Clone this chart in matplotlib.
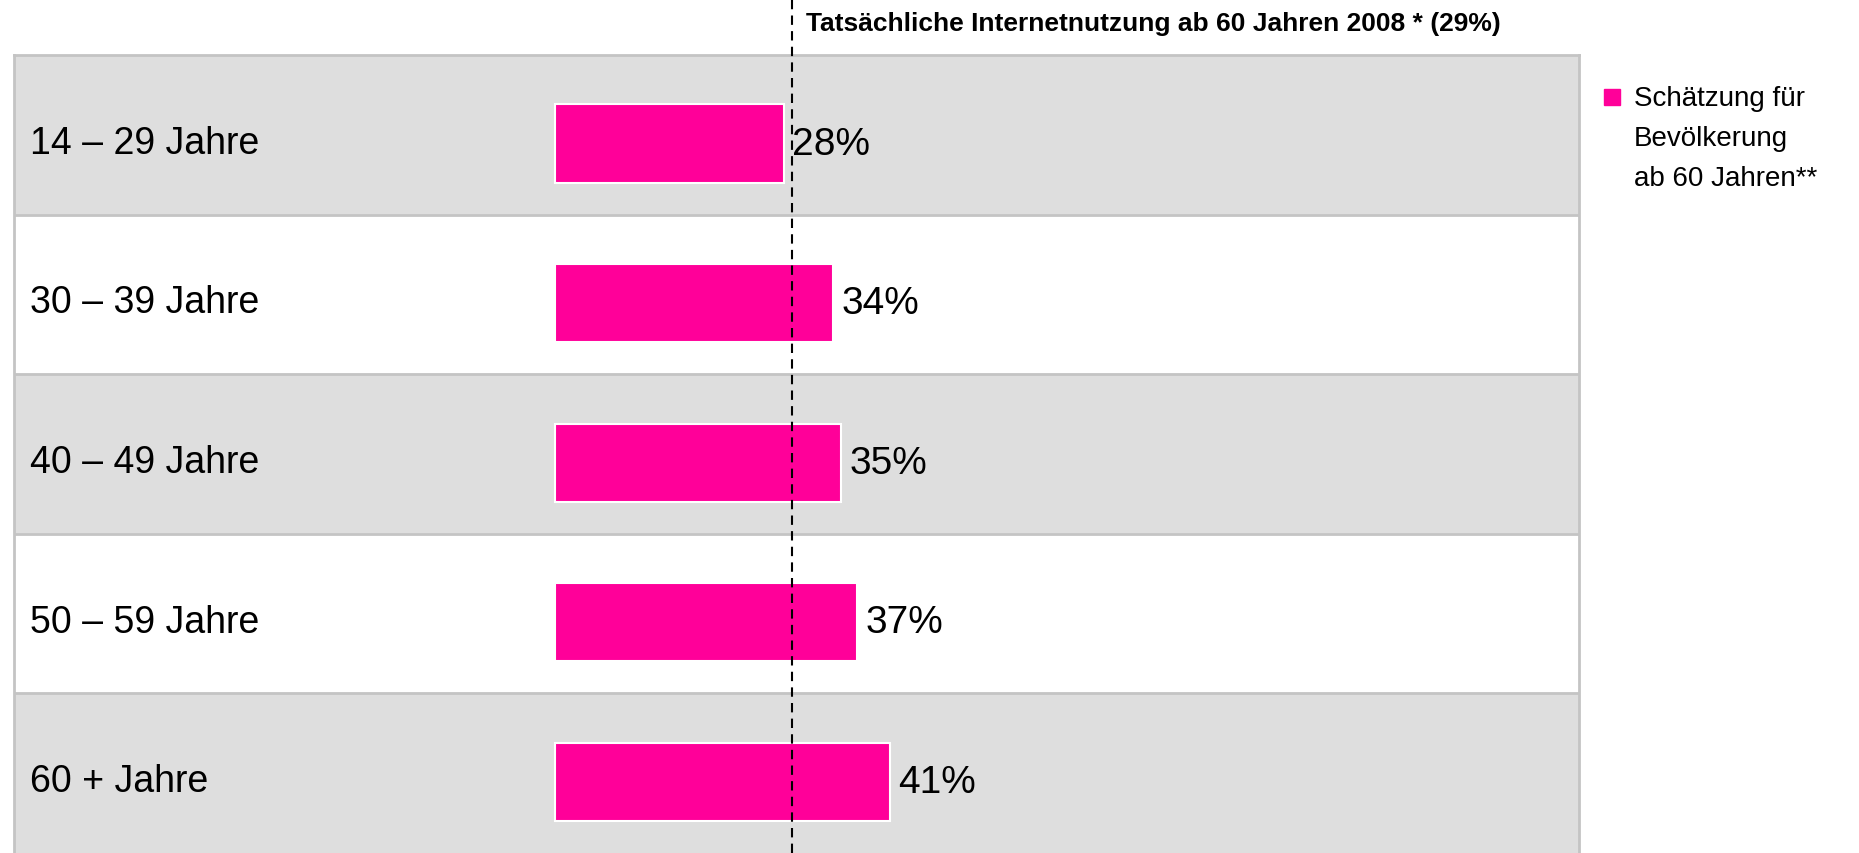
import matplotlib.pyplot as plt
from matplotlib.patches import Rectangle
from matplotlib.transforms import blended_transform_factory

plt.rcParams['font.family'] = ['Liberation Sans', 'DejaVu Sans']

# data
age_groups = ["14 – 29 Jahre", "30 – 39 Jahre", "40 – 49 Jahre", "50 – 59 Jahre", "60 + Jahre"]
estimates = [28, 34, 35, 37, 41]
actual_2008 = 29
ref_label = "Tatsächliche Internetnutzung ab 60 Jahren 2008 * (29%)"
legend_label = "Schätzung für\nBevölkerung\nab 60 Jahren**"

PINK = "#FF0099"
GRAY = "#DEDEDE"
BORDER = "#C4C4C4"

W, H = 1859, 854
fig = plt.figure(figsize=(W / 100, H / 100), dpi=100)
ax = fig.add_axes([14 / W, 0, (1579 - 14) / W, 798 / H])
ax.set_xlim(-66.1, 125.2)
ax.set_ylim(len(age_groups) - 0.5, -0.5)
ax.set_xticks([])
ax.set_yticks([])
for side in ["left", "right", "top"]:
    ax.spines[side].set_color(BORDER)
    ax.spines[side].set_linewidth(2)
ax.spines["bottom"].set_visible(False)

lbl_tr = blended_transform_factory(ax.transAxes, ax.transData)

# row bands
for i, name in enumerate(age_groups):
    ax.axhspan(i - 0.5, i + 0.5, color=GRAY if i % 2 == 0 else "white", zorder=0)
    if i > 0:
        ax.axhline(i - 0.5, color=BORDER, lw=2, zorder=1)
    ax.text(16 / 1565, i + 0.05, name, transform=lbl_tr, va="center", ha="left", fontsize=27)

ypos = [i + 0.055 for i in range(len(age_groups))]
ax.barh(ypos, estimates, height=0.49, color=PINK, edgecolor="white", linewidth=1.5, zorder=2)
for y, v in zip(ypos, estimates):
    ax.annotate(f"{v}%", xy=(v, y), xytext=(6, 0), textcoords="offset points",
                va="center", ha="left", fontsize=28)

# reference line
ax.axvline(actual_2008, ymin=0, ymax=H / 798, clip_on=False, color="black",
           lw=1.5, ls=(0, (4.5, 3)), zorder=3)
ax.annotate(ref_label, xy=(actual_2008, 1 - 24 / H),
            xycoords=(ax.transData, fig.transFigure),
            xytext=(14, 0), textcoords="offset pixels",
            va="center", ha="left", fontsize=19, fontweight="bold")

# legend
fig.patches.append(Rectangle((1604 / W, 1 - 106 / H), 16 / W, 16 / H,
                             transform=fig.transFigure, color=PINK))
fig.text(1634 / W, 1 - 86 / H, legend_label, va="top", ha="left",
         fontsize=20, linespacing=1.7)

fig.savefig("out.png", dpi=100)
